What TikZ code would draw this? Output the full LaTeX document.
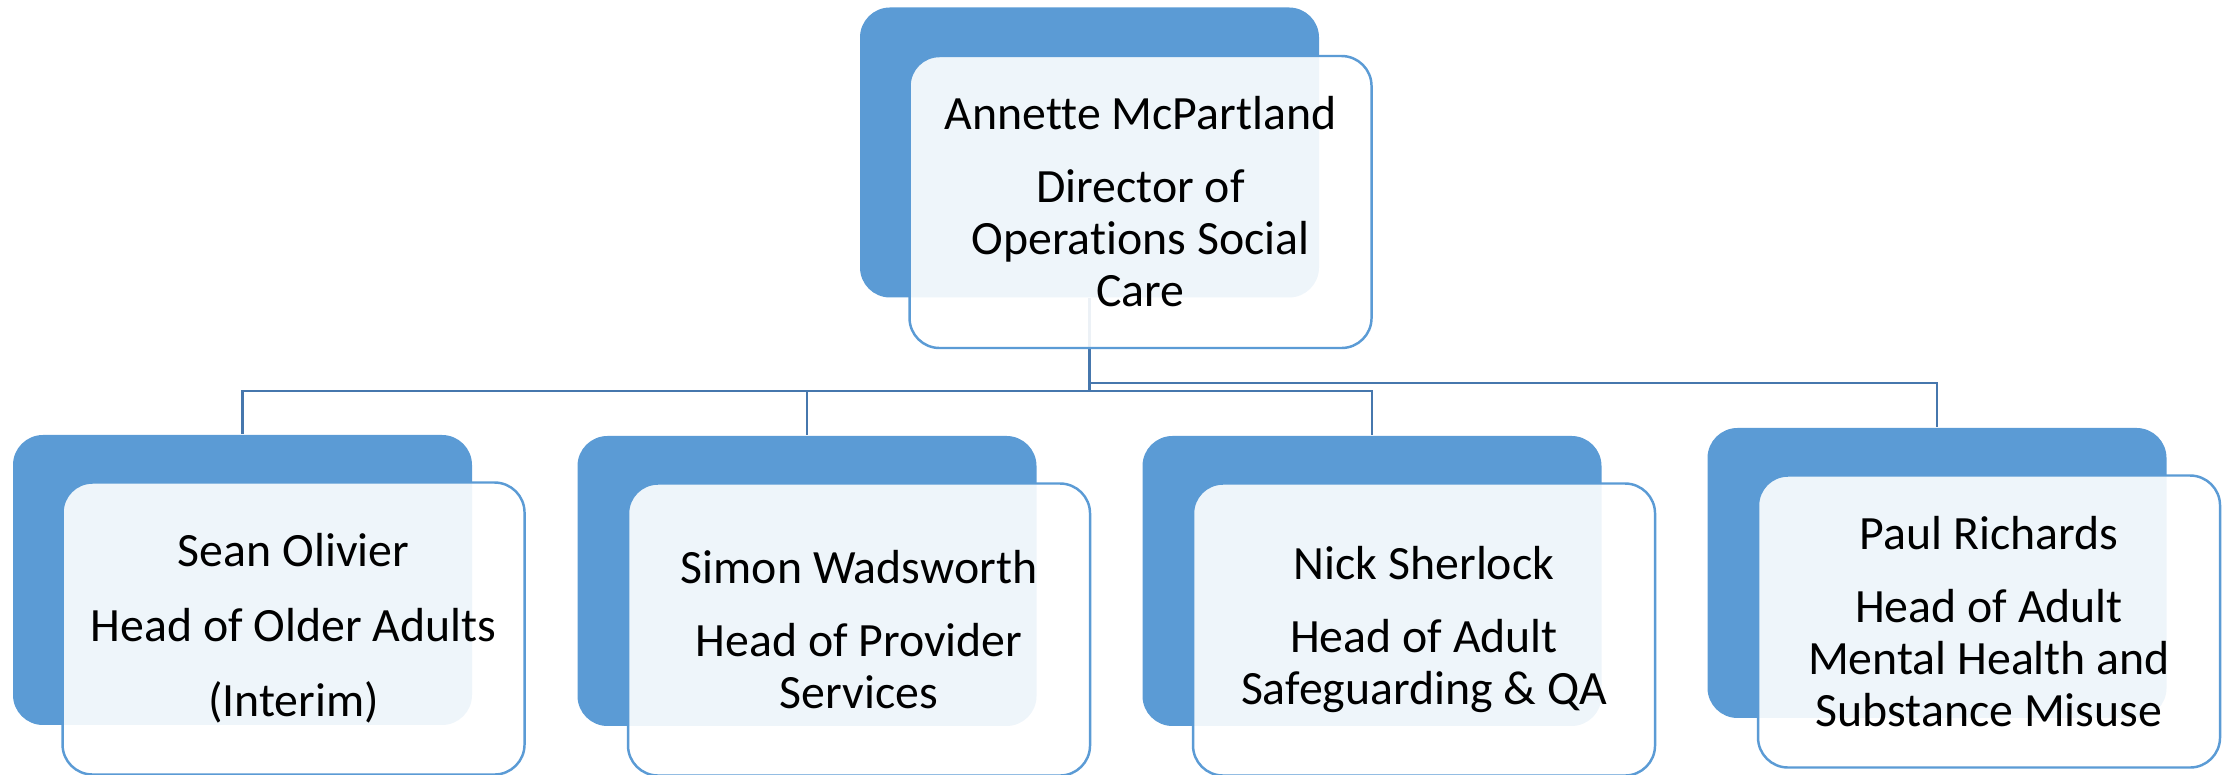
\documentclass[tikz,border=0pt]{standalone}
\usepackage{fontspec}
\setmainfont{Carlito}[Ligatures=NoCommon]
\definecolor{boxblue}{HTML}{5B9BD5}
\definecolor{linkblue}{HTML}{4677AD}
\tikzset{
  backbox/.style = {fill=boxblue, rounded corners=0.3cm, minimum width=4.59cm, minimum height=2.9cm},
  frontbox/.style = {draw=boxblue, line width=0.7pt, fill=white, fill opacity=0.9, text opacity=1,
                     rounded corners=0.3cm, minimum width=4.62cm, minimum height=2.92cm,
                     anchor=north west, align=center, font=\fontsize{13.6}{14.8}\selectfont},
  link/.style = {draw=linkblue, line width=0.65pt}
}
\begin{document}
\begin{tikzpicture}
  \useasboundingbox (0,0) rectangle (22.34,-7.75);
  % back boxes
  \node [backbox] (dir) at (10.895,-1.525) {};
  \node [backbox] (hoa) at (2.425,-5.80)   {};
  \node [backbox] (hps) at (8.07,-5.81)    {};
  \node [backbox] (hsg) at (13.72,-5.81)   {};
  \node [backbox] (hmh) at (19.37,-5.73)   {};
  % connectors
  \draw [link] (dir.south) -- ++(0,-0.93) -| (hoa.north);
  \draw [link] (dir.south) -- ++(0,-0.93) -| (hps.north);
  \draw [link] (dir.south) -- ++(0,-0.93) -| (hsg.north);
  \draw [link] (dir.south) -- ++(0,-0.85) -| (hmh.north);
  % front boxes
  \node [frontbox] (dirtxt) at ([shift={(0.49,-0.48)}]dir.north west)
        {Annette McPartland\\[6pt] Director of\\ Operations Social\\ Care};
  \node [frontbox] (hoatxt) at ([shift={(0.49,-0.47)}]hoa.north west)
        {Sean Olivier\\[6.5pt] Head of Older Adults\\[6.5pt] (Interim)};
  \node [frontbox] (hpstxt) at ([shift={(0.50,-0.47)}]hps.north west)
        {Simon Wadsworth\\[6pt] Head of Provider\\ Services};
  \node [frontbox] (hsgtxt) at ([shift={(0.50,-0.47)}]hsg.north west)
        {Nick Sherlock\\[6pt] Head of Adult\\ Safeguarding \& QA};
  \node [frontbox] (hmhtxt) at ([shift={(0.50,-0.47)}]hmh.north west)
        {Paul Richards\\[6pt] Head of Adult\\ Mental Health and\\ Substance Misuse};
\end{tikzpicture}
\end{document}
